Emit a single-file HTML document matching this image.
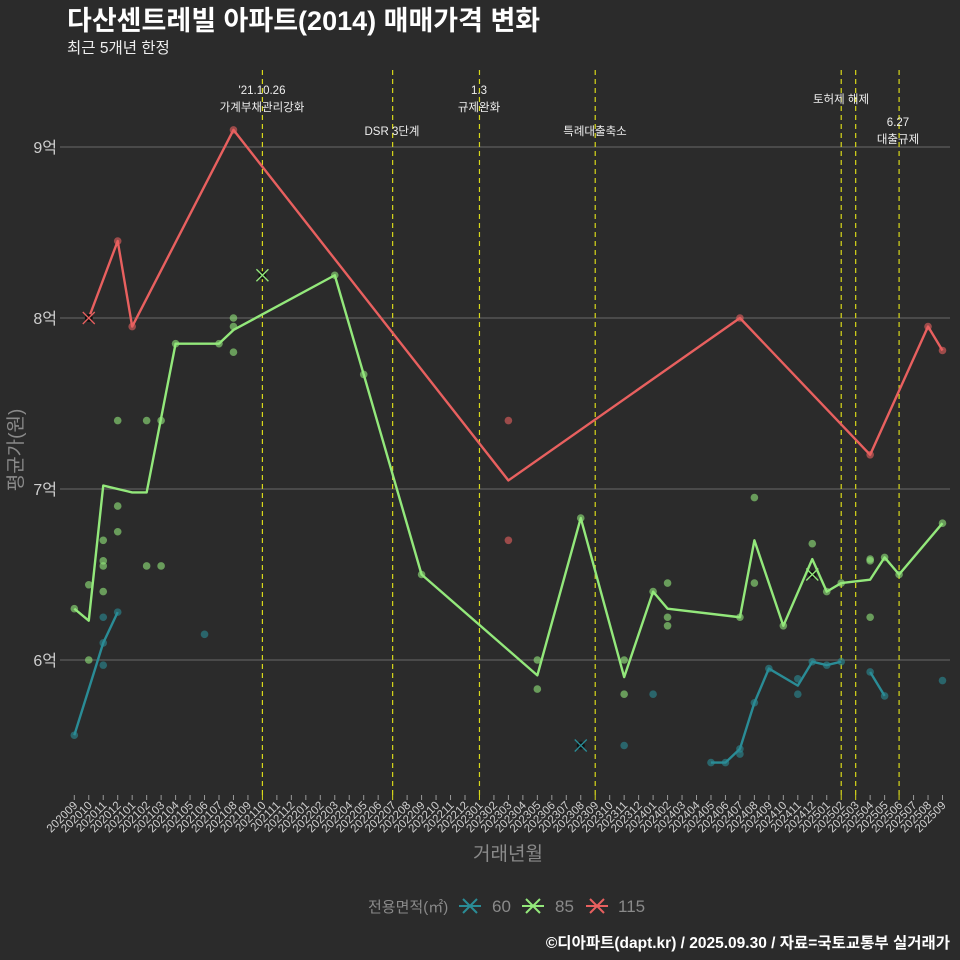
<!DOCTYPE html>
<html><head><meta charset="utf-8">
<style>
body{margin:0;background:#2b2b2b;}
svg{display:block;font-family:"Liberation Sans","Noto Sans CJK KR",sans-serif;}
</style></head>
<body>
<svg id="chart" width="960" height="960" viewBox="0 0 960 960">
<rect x="0" y="0" width="960" height="960" fill="#2b2b2b"/>
<text x="67" y="30" fill="#ffffff" font-size="27" font-weight="bold">다산센트레빌 아파트(2014) 매매가격 변화</text>
<text x="67" y="53" fill="#eeeeee" font-size="15.5">최근 5개년 한정</text>
<g id="grid"></g>
<g id="events"></g>
<g id="xaxis"></g>
<g id="series"></g>
<text x="0" y="0" transform="translate(22,450) rotate(-90)" text-anchor="middle" fill="#8a8a8a" font-size="19">평균가(원)</text>
<text x="508" y="860" text-anchor="middle" fill="#8a8a8a" font-size="19">거래년월</text>
<g id="legend"></g>
<text x="950" y="948" text-anchor="end" fill="#ffffff" font-size="15.5" font-weight="bold">©디아파트(dapt.kr) / 2025.09.30 / 자료=국토교통부 실거래가</text>
</svg>
<script>
const yTicks = [6, 7, 8, 9];
const yTickLabels = ["6억", "7억", "8억", "9억"];
const eventMonths = [13, 22, 28, 36, 53, 54, 57];
const eventLabels = [["'21.10.26","가계부채관리강화"],["DSR 3단계"],["1.3","규제완화"],["특례대출축소"],[],["토허제 해제"],["6.27","대출규제"]];
const eventLabelY = [94, 135, 94, 135, 0, 103, 126];
const eventLabelX = [262, 392, 479, 595, 0, 841, 898];
const seriesNames = ["60", "85", "115"];
const seriesColors = ["#2a8c96", "#93e87b", "#e8605f"];
const line60 = [[0,5.56],[2,6.10],[3,6.28],null,[44,5.40],[45,5.40],[46,5.48],[47,5.75],[48,5.95],[50,5.85],[51,5.99],[52,5.97],[53,5.99],null,[55,5.93],[56,5.79]];
const line85 = [[0,6.30],[1,6.23],[2,7.02],[4,6.98],[5,6.98],[7,7.85],[10,7.85],[11,7.93],[18,8.25],[20,7.67],[24,6.50],[32,5.91],[35,6.83],[38,5.90],[40,6.40],[41,6.30],[46,6.25],[47,6.70],[49,6.20],[51,6.59],[52,6.40],[53,6.45],[55,6.47],[56,6.60],[57,6.50],[60,6.80]];
const line115 = [[1,8.00],[3,8.45],[4,7.95],[11,9.10],[30,7.05],[46,8.00],[55,7.20],[59,7.95],[60,7.81]];
const pts60 = [[0,5.56],[2,6.10],[2,6.25],[2,5.97],[3,6.28],[9,6.15],[38,5.50],[40,5.80],[44,5.40],[45,5.40],[46,5.48],[46,5.45],[47,5.75],[48,5.95],[50,5.89],[50,5.80],[51,5.99],[52,5.97],[53,5.99],[55,5.93],[56,5.79],[60,5.88]];
const pts85 = [[0,6.30],[1,6.44],[1,6.00],[2,6.70],[2,6.58],[2,6.55],[2,6.40],[3,7.40],[3,6.90],[3,6.75],[5,7.40],[5,6.55],[6,7.40],[6,6.55],[7,7.85],[10,7.85],[11,8.00],[11,7.95],[11,7.80],[18,8.25],[20,7.67],[24,6.50],[32,6.00],[32,5.83],[35,6.83],[38,6.00],[38,5.80],[40,6.40],[41,6.45],[41,6.25],[41,6.20],[46,6.25],[47,6.95],[47,6.45],[49,6.20],[51,6.68],[52,6.40],[53,6.45],[55,6.59],[55,6.58],[55,6.25],[56,6.60],[57,6.50],[60,6.80]];
const pts115 = [[3,8.45],[4,7.95],[11,9.10],[30,7.40],[30,6.70],[46,8.00],[55,7.20],[59,7.95],[60,7.81]];
const cross60 = [[35,5.50]];
const cross85 = [[13,8.25],[51,6.50]];
const cross115 = [[1,8.00]];

const NS = "http://www.w3.org/2000/svg";
const X0 = 74.3, DX = 14.47;
function xs(m){ return X0 + DX*m; }
function ys(v){ return 660 - (v-6)*171; }
function mk(tag, attrs, parent){ const e=document.createElementNS(NS,tag); for(const k in attrs) e.setAttribute(k,attrs[k]); parent.appendChild(e); return e; }
function monthLabel(m){ let y=2020, mo=9+m; y += Math.floor((mo-1)/12); mo = (mo-1)%12+1; return y+String(mo).padStart(2,"0"); }

const grid=document.getElementById("grid");
yTicks.forEach((t,i)=>{
  const l=mk("line",{x1:60,x2:950,y1:ys(t),y2:ys(t),stroke:"#5e5e5e","stroke-width":1.2},grid);
  
  
  const tx=mk("text",{x:57,y:ys(t)+6,"text-anchor":"end",fill:"#cfcfcf","font-size":16},grid);
  tx.textContent=yTickLabels[i];
  
  
});
const ev=document.getElementById("events");
eventMonths.forEach((m,i)=>{
  const l=mk("line",{x1:xs(m),x2:xs(m),y1:70,y2:796,stroke:"#d8d81a","stroke-width":1.2,"stroke-dasharray":"5,4"},ev);
  
  
  eventLabels[i].forEach((s,j)=>{
    const t=mk("text",{x:eventLabelX[i],y:eventLabelY[i]+j*17,"text-anchor":"middle",fill:"#eeeeee","font-size":11.5},ev);
    t.textContent=s;
    
    
  });
});
const xa=document.getElementById("xaxis");
for(let m=0;m<=60;m++){
  const isEv=eventMonths.includes(m);
  const tk=mk("line",{x1:xs(m),x2:xs(m),y1:795,y2:800,stroke:isEv?"#d8d81a":"#999","stroke-width":1},xa);
  
  
  const t=mk("text",{x:0,y:0,transform:`translate(${xs(m)+4},${806}) rotate(-45)`,"text-anchor":"end",fill:"#d0d0d0","font-size":11.5},xa);
  t.textContent=monthLabel(m);
  
  
}
const sg=document.getElementById("series");
function drawLine(arr,color,name){
  let segs=[],cur=[];
  arr.forEach(p=>{ if(p===null){ if(cur.length) segs.push(cur); cur=[]; } else cur.push(p); });
  if(cur.length) segs.push(cur);
  segs.forEach(s=>{
    const pl=mk("polyline",{points:s.map(p=>xs(p[0])+","+ys(p[1])).join(" "),fill:"none",stroke:color,"stroke-width":2.4,"stroke-linejoin":"round"},sg);
    
    
  });
}
function drawPts(arr,color,name){
  arr.forEach(p=>{
    const c=mk("circle",{cx:xs(p[0]),cy:ys(p[1]),r:3.8,fill:color,"fill-opacity":0.6},sg);
    
    
  });
}
function drawCross(arr,color,name){
  arr.forEach(p=>{
    const x=xs(p[0]),y=ys(p[1]);
    const g=mk("g",{},sg);
    
    
    mk("circle",{cx:x,cy:y,r:4,fill:"#111"},g);
    mk("path",{d:`M${x-6},${y-6}L${x+6},${y+6}M${x-6},${y+6}L${x+6},${y-6}`,stroke:color,"stroke-width":1.3},g);
  });
}
drawPts(pts60,seriesColors[0],'point-60');
drawPts(pts85,seriesColors[1],'point-85');
drawPts(pts115,seriesColors[2],'point-115');
drawLine(line60,seriesColors[0],'line-60');
drawLine(line85,seriesColors[1],'line-85');
drawLine(line115,seriesColors[2],'line-115');
drawCross(cross60,seriesColors[0],'marker-60');
drawCross(cross85,seriesColors[1],'marker-85');
drawCross(cross115,seriesColors[2],'marker-115');

const lg=document.getElementById("legend");
const lt=mk("text",{x:368,y:912,fill:"#8a8a8a","font-size":15},lg);
lt.textContent="전용면적(㎡)";


const lx=[470,533,597], tx2=[492,555,618];
seriesNames.forEach((n,i)=>{
  const g=mk("g",{},lg);
  
  
  mk("path",{d:`M${lx[i]-11},906L${lx[i]+11},906M${lx[i]-7},899L${lx[i]+7},913M${lx[i]-7},913L${lx[i]+7},899`,stroke:seriesColors[i],"stroke-width":2},g);
  const t=mk("text",{x:tx2[i],y:912,fill:"#8a8a8a","font-size":17},g);
  t.textContent=n;
});
</script>
</body></html>
